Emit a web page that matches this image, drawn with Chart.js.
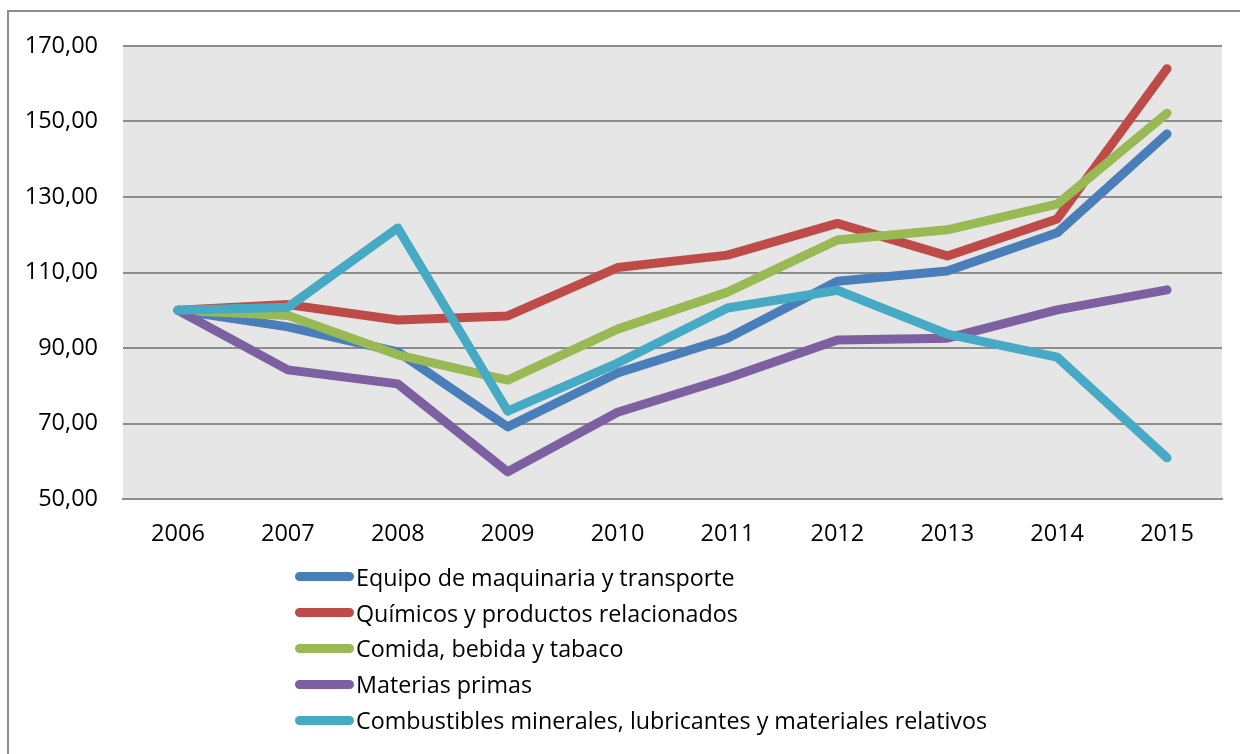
<!DOCTYPE html>
<html>
<head>
<meta charset="utf-8">
<script src="https://cdn.jsdelivr.net/npm/chart.js@4.4.0/dist/chart.umd.min.js"></script>
<style>
html,body{margin:0;padding:0;background:#fff;}
#wrap{position:relative;width:1240px;height:754px;overflow:hidden;}
#frame{position:absolute;left:7px;top:10px;width:1300px;height:800px;border:2px solid #8c8c8c;box-sizing:border-box;}
#c{position:absolute;left:0;top:0;}
#legend{position:absolute;left:295px;top:559px;font-family:"Open Sans",sans-serif;font-size:23.3px;color:#000;}
.row{height:35.8px;display:flex;align-items:center;white-space:nowrap;}
.sw{width:59px;height:9px;border-radius:5px;margin-right:2px;}
</style>
</head>
<body>
<div id="wrap">
<div id="frame"></div>
<canvas id="c" width="1240" height="754"></canvas>
<div id="legend"></div>
</div>
<script>
const years = ["2006","2007","2008","2009","2010","2011","2012","2013","2014","2015"];
const equipo = [100, 95.6, 89.0, 69.1, 83.4, 92.6, 107.7, 110.4, 120.5, 146.7];
const quimicos = [100, 101.5, 97.4, 98.5, 111.3, 114.6, 123.0, 114.4, 124.2, 164.0];
const comida = [100, 98.6, 88.2, 81.5, 95.0, 104.8, 118.6, 121.3, 128.1, 152.2];
const materias = [100, 84.2, 80.5, 57.2, 73.0, 82.0, 92.1, 92.6, 100.1, 105.4];
const combustibles = [100, 100.8, 121.8, 73.3, 86.0, 100.6, 105.3, 93.7, 87.6, 60.9];
const seriesNames = ["Equipo de maquinaria y transporte","Químicos y productos relacionados","Comida, bebida y tabaco","Materias primas","Combustibles minerales, lubricantes y materiales relativos"];
const colors = ["#4a7ebb","#be4b48","#98b954","#7d60a0","#46aac5"];
const yMin = 50, yMax = 170, yStep = 20;

const seriesData = [equipo, quimicos, comida, materias, combustibles];
const datasets = seriesData.map((d,i)=>({
  label: seriesNames[i], data: d, borderColor: colors[i], backgroundColor: colors[i],
  borderWidth: 9, pointRadius: 0, borderCapStyle: 'round', borderJoinStyle: 'round',
  tension: 0, order: 5 - i
}));

const bgPlugin = {
  id: 'plotbg',
  beforeDraw(chart){
    const {ctx, chartArea:a} = chart;
    ctx.save(); ctx.fillStyle = '#e6e6e6';
    ctx.fillRect(a.left, a.top, a.right - a.left, a.bottom - a.top);
    ctx.restore();
  }
};

new Chart(document.getElementById('c'), {
  type: 'line',
  data: { labels: years, datasets },
  plugins: [bgPlugin],
  options: {
    responsive: false, animation: false, devicePixelRatio: 1,
    layout: { padding: { top: 46, right: 18, left: 0, bottom: 0 } },
    plugins: { legend: { display: false }, tooltip: { enabled: false } },
    scales: {
      x: {
        offset: true,
        grid: { display: false, drawTicks: false },
        border: { display: true, color: '#8c8c8c', width: 2 },
        ticks: { color: '#000', font: { family: 'Open Sans', size: 23.5 }, padding: 21 },
        afterFit(s){ s.height = 754 - 499; }
      },
      y: {
        min: yMin, max: yMax,
        grid: { color: '#8c8c8c', lineWidth: 2, drawTicks: false },
        border: { display: false },
        ticks: { stepSize: yStep, color: '#000', font: { family: 'Open Sans', size: 23.5 }, padding: 25,
          callback: v => v.toFixed(2).replace('.', ',') },
        afterFit(s){ s.width = 123; }
      }
    }
  }
});

const lg = document.getElementById('legend');
seriesNames.forEach((n,i)=>{
  const r = document.createElement('div'); r.className='row';
  const s = document.createElement('div'); s.className='sw'; s.style.background = colors[i];
  const t = document.createElement('span'); t.textContent = n;
  r.appendChild(s); r.appendChild(t); lg.appendChild(r);
});
</script>
</body>
</html>
